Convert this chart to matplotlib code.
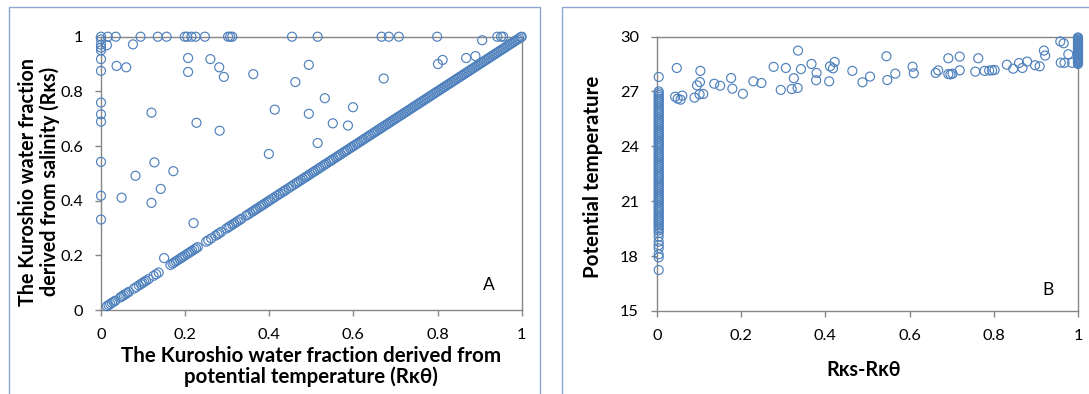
"""
Kuroshio water fraction scatter plots (panels A and B).
"""

import matplotlib as mpl

mpl.use("Agg")

import matplotlib.pyplot as plt
from matplotlib.patches import Rectangle

plt.rcParams["font.family"] = ["Lato", "DejaVu Sans"]

MARKER_COLOR = "#4F81BD"
AXIS_COLOR = "#868686"
PANEL_COLOR = "#8EA6D2"

# ---- panel A: Rk_theta (x) vs Rks (y) ----
# points lying on the 1:1 line (both fractions agree)
diag_rk = [
    0.014, 0.018, 0.022, 0.026, 0.030, 0.034, 0.046, 0.050, 0.054, 0.058,
    0.062, 0.066, 0.078, 0.084, 0.090, 0.095, 0.099, 0.103, 0.107, 0.113,
    0.125, 0.131, 0.137, 0.165, 0.170, 0.174, 0.178, 0.182, 0.187, 0.191,
    0.195, 0.200, 0.205, 0.209, 0.213, 0.217, 0.222, 0.226, 0.230, 0.250,
    0.255, 0.262, 0.272, 0.277, 0.281, 0.286, 0.298, 0.303, 0.307, 0.312,
    0.316, 0.321, 0.325, 0.330, 0.334, 0.345, 0.350, 0.355, 0.360, 0.364,
    0.368, 0.372, 0.377, 0.381, 0.385, 0.389, 0.394, 0.398, 0.402, 0.407,
    0.412, 0.418, 0.423, 0.427, 0.432, 0.436, 0.440, 0.446, 0.452, 0.457,
    0.462, 0.466, 0.470, 0.475, 0.480, 0.485, 0.489, 0.493, 0.497, 0.502,
    0.506, 0.510, 0.515, 0.519, 0.523, 0.528, 0.532, 0.536, 0.541, 0.545,
    0.549, 0.553, 0.558, 0.562, 0.566, 0.570, 0.575, 0.579, 0.583, 0.587,
    0.592, 0.596, 0.600, 0.604, 0.608, 0.612, 0.617, 0.621, 0.625, 0.629,
    0.633, 0.637, 0.641, 0.646, 0.650, 0.654, 0.658, 0.662, 0.666, 0.670,
    0.674, 0.678, 0.682, 0.686, 0.690, 0.694, 0.698, 0.702, 0.706, 0.710,
    0.714, 0.718, 0.722, 0.726, 0.730, 0.734, 0.738, 0.742, 0.746, 0.750,
    0.754, 0.758, 0.762, 0.766, 0.770, 0.774, 0.778, 0.782, 0.786, 0.790,
    0.794, 0.798, 0.802, 0.806, 0.810, 0.814, 0.818, 0.822, 0.826, 0.830,
    0.834, 0.838, 0.842, 0.846, 0.850, 0.854, 0.858, 0.862, 0.866, 0.870,
    0.874, 0.878, 0.882, 0.886, 0.890, 0.894, 0.898, 0.902, 0.906, 0.910,
    0.914, 0.918, 0.922, 0.926, 0.930, 0.934, 0.938, 0.942, 0.946, 0.950,
    0.954, 0.958, 0.962, 0.966, 0.970, 0.974, 0.978, 0.982, 0.986, 0.990,
    0.994, 0.998, 1.000,
]

# points off the 1:1 line
off_rk_theta = [
    0.0, 0.0, 0.0, 0.0, 0.0, 0.0, 0.0, 0.0, 0.0, 0.0, 0.0, 0.0, 0.0,
    0.016, 0.035, 0.094, 0.135, 0.156, 0.199, 0.205, 0.215, 0.225, 0.247,
    0.302, 0.307, 0.312, 0.454, 0.515, 0.667, 0.684, 0.708, 0.799, 0.942,
    0.951, 0.956,
    0.014, 0.076, 0.037, 0.060, 0.906, 0.207, 0.260, 0.281, 0.292, 0.207,
    0.362, 0.494, 0.462, 0.868, 0.890, 0.801, 0.812, 0.672, 0.120, 0.413,
    0.494, 0.532, 0.599, 0.551, 0.587, 0.227, 0.282, 0.515, 0.399, 0.127,
    0.082, 0.172, 0.049, 0.142, 0.120, 0.220, 0.150,
]
off_rks = [
    1.0, 0.971, 0.960, 0.950, 0.918, 0.875, 0.759, 0.716, 0.689, 0.542,
    0.418, 0.331, 0.990,
    1.0, 1.0, 1.0, 1.0, 1.0, 1.0, 1.0, 1.0, 1.0, 1.0,
    1.0, 1.0, 1.0, 1.0, 1.0, 1.0, 1.0, 1.0, 1.0, 1.0,
    1.0, 1.0,
    0.969, 0.972, 0.893, 0.888, 0.987, 0.922, 0.918, 0.888, 0.853, 0.871,
    0.863, 0.897, 0.834, 0.922, 0.929, 0.900, 0.915, 0.847, 0.722, 0.733,
    0.718, 0.775, 0.742, 0.683, 0.675, 0.685, 0.656, 0.611, 0.571, 0.540,
    0.491, 0.508, 0.411, 0.443, 0.392, 0.318, 0.190,
]

# ---- panel B: Rks - Rk_theta (x) vs potential temperature (y) ----
# column at Rks - Rk_theta = 0
col0_temp = [
    17.24, 17.93, 18.10, 18.43, 18.60, 18.79, 19.06, 19.25, 19.40, 19.50,
    19.60, 19.70, 19.80, 19.90, 20.00, 20.10, 20.20, 20.30, 20.40, 20.50,
    20.60, 20.70, 20.80, 20.90, 21.00, 21.10, 21.20, 21.30, 21.40, 21.50,
    21.60, 21.70, 21.80, 21.90, 22.00, 22.10, 22.20, 22.30, 22.40, 22.50,
    22.60, 22.70, 22.80, 22.90, 23.00, 23.10, 23.20, 23.30, 23.40, 23.50,
    23.60, 23.70, 23.80, 23.90, 24.00, 24.10, 24.20, 24.30, 24.40, 24.50,
    24.60, 24.70, 24.80, 24.90, 25.00, 25.10, 25.20, 25.30, 25.40, 25.50,
    25.60, 25.70, 25.80, 25.90, 26.00, 26.10, 26.20, 26.30, 26.40, 26.50,
    26.60, 26.70, 26.80, 26.90, 27.00, 27.79,
]
# column at Rks - Rk_theta = 1
col1_temp = [
    28.50, 28.55, 28.60, 28.65, 28.70, 28.75, 28.80, 28.85, 28.90, 28.95,
    29.00, 29.05, 29.10, 29.15, 29.20, 29.25, 29.30, 29.35, 29.40, 29.45,
    29.50, 29.55, 29.60, 29.65, 29.70, 29.75, 29.80, 29.85, 29.90, 29.95,
]
# scattered points between the two columns
mid_diff = [
    0.047, 0.043, 0.049, 0.056, 0.060, 0.089, 0.095, 0.102, 0.103, 0.101,
    0.110, 0.136, 0.150, 0.176, 0.179, 0.204, 0.229, 0.248, 0.277, 0.294,
    0.306, 0.320, 0.325, 0.334, 0.335, 0.342, 0.367, 0.379, 0.378, 0.409,
    0.411, 0.418, 0.422, 0.464, 0.488, 0.506, 0.545, 0.547, 0.566, 0.607,
    0.610, 0.662, 0.668, 0.692, 0.692, 0.697, 0.702, 0.719, 0.719, 0.756,
    0.763, 0.778, 0.789, 0.796, 0.802, 0.831, 0.846, 0.860, 0.868, 0.879,
    0.898, 0.909, 0.919, 0.922, 0.958, 0.966, 0.959, 0.968, 0.977, 0.986,
]
mid_temp = [
    28.28, 26.71, 26.60, 26.55, 26.77, 26.66, 27.33, 27.51, 28.12, 26.84,
    26.86, 27.42, 27.31, 27.73, 27.15, 26.87, 27.55, 27.46, 28.34, 27.08,
    28.28, 27.13, 27.72, 27.19, 29.23, 28.22, 28.50, 28.01, 27.61, 27.55,
    28.37, 28.26, 28.61, 28.12, 27.50, 27.81, 28.92, 27.62, 27.97, 28.35,
    27.99, 28.01, 28.15, 28.81, 27.95, 27.93, 27.97, 28.90, 28.15, 28.08,
    28.81, 28.12, 28.14, 28.15, 28.17, 28.46, 28.24, 28.55, 28.28, 28.63,
    28.43, 28.37, 29.23, 28.96, 29.73, 29.63, 28.57, 28.56, 29.03, 28.56,
]

frac_ticks = [0, 0.2, 0.4, 0.6, 0.8, 1.0]
frac_labels = ["0", "0.2", "0.4", "0.6", "0.8", "1"]
temp_ticks = [15, 18, 21, 24, 27, 30]


def style_axis(ax):
    for spine in ax.spines.values():
        spine.set_color(AXIS_COLOR)
        spine.set_linewidth(1.0)
    ax.tick_params(direction="out", length=4, width=1.0, color=AXIS_COLOR,
                   labelsize=11.8, pad=9)


def scatter(ax, x, y):
    ax.scatter(x, y, s=42, facecolors="none", edgecolors=MARKER_COLOR,
               linewidths=0.85, clip_on=False, zorder=3)


W, H = 1089, 394
fig = plt.figure(figsize=(W / 100, H / 100), dpi=100)

# chart-area frames (cut off at the bottom / right like the source)
fig.patches.append(Rectangle((9 / W, -0.1), 531 / W, 1.1 - 6.7 / H,
                             transform=fig.transFigure, fill=False,
                             edgecolor=PANEL_COLOR, linewidth=1.0))
fig.patches.append(Rectangle((562 / W, -0.1), 1.0, 1.1 - 6.7 / H,
                             transform=fig.transFigure, fill=False,
                             edgecolor=PANEL_COLOR, linewidth=1.0))

ax_a = fig.add_axes([101 / W, 84 / H, 420.7 / W, 273.3 / H])
scatter(ax_a, off_rk_theta, off_rks)
scatter(ax_a, diag_rk, diag_rk)
ax_a.set_xlim(0, 1)
ax_a.set_ylim(0, 1)
ax_a.set_xticks(frac_ticks, frac_labels)
ax_a.set_yticks(frac_ticks, frac_labels)
style_axis(ax_a)
ax_a.set_xlabel("The Kuroshio water fraction derived from\npotential temperature (Rκθ)",
                fontsize=14.8, fontweight="bold", linespacing=1.05)
ax_a.xaxis.set_label_coords(0.5, -0.13)
ax_a.xaxis.label.set_va("top")
ax_a.set_ylabel("The Kuroshio water fraction\nderived from salinity (Rκs)",
                fontsize=14.2, fontweight="bold", linespacing=1.1)
ax_a.yaxis.set_label_coords(-0.148, 0.47)
ax_a.yaxis.label.set_va("center")
ax_a.text(0.922, 0.092, "A", fontsize=12.5, ha="center", va="center")

ax_b = fig.add_axes([657 / W, 83 / H, 421 / W, 274.5 / H])
scatter(ax_b, [0.004] * len(col0_temp), col0_temp)
scatter(ax_b, [1.0] * len(col1_temp), col1_temp)
scatter(ax_b, mid_diff, mid_temp)
ax_b.set_xlim(0, 1)
ax_b.set_ylim(15, 30)
ax_b.set_xticks(frac_ticks, frac_labels)
ax_b.set_yticks(temp_ticks)
style_axis(ax_b)
ax_b.set_xlabel("Rκs-Rκθ", fontsize=14.2, fontweight="bold")
ax_b.xaxis.set_label_coords(0.49, -0.215)
ax_b.xaxis.label.set_va("center")
ax_b.set_ylabel("Potential temperature", fontsize=14.8, fontweight="bold")
ax_b.yaxis.set_label_coords(-0.152, 0.49)
ax_b.yaxis.label.set_va("center")
ax_b.text(0.928, 16.17, "B", fontsize=12.5, ha="center", va="center")

fig.savefig("out.png", dpi=100)
plt.close(fig)
